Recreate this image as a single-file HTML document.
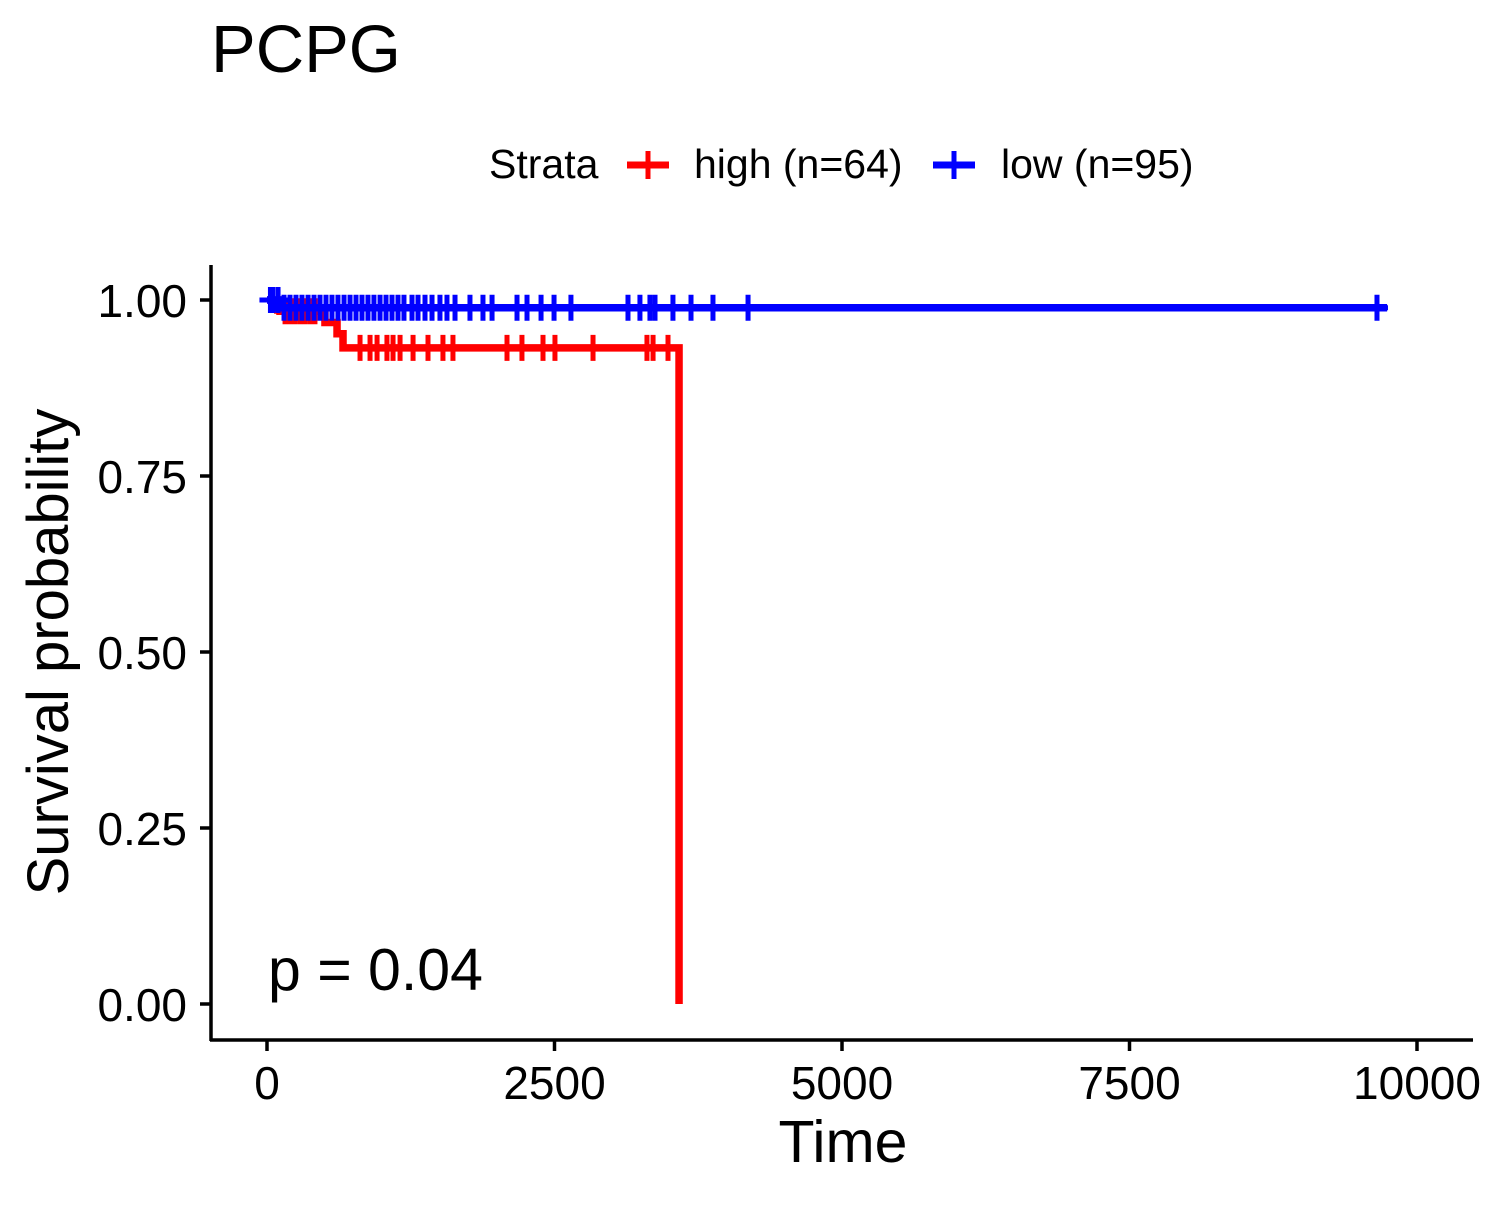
<!DOCTYPE html>
<html><head><meta charset="utf-8"><style>
body{margin:0;background:#fff}
svg text{font-family:"Liberation Sans",Arial,sans-serif}
</style></head><body>
<svg id="chart" width="1500" height="1200" viewBox="0 0 1500 1200" xmlns="http://www.w3.org/2000/svg">
<text x="211" y="72" font-size="67">PCPG</text>
<g>
<text x="489" y="178" font-size="41">Strata</text>
<g><line x1="627" y1="165" x2="669" y2="165" stroke="#f00" stroke-width="7"/><line x1="648" y1="151" x2="648" y2="179" stroke="#f00" stroke-width="5"/><text x="694" y="178" font-size="41">high (n=64)</text></g>
<g><line x1="933" y1="165" x2="975" y2="165" stroke="#00f" stroke-width="7"/><line x1="954" y1="151" x2="954" y2="179" stroke="#00f" stroke-width="5"/><text x="1001" y="178" font-size="41">low (n=95)</text></g>
</g>
<g id="axes"></g>
<g id="plot"></g>
<text x="268" y="990" font-size="59">p = 0.04</text>
<text x="843" y="1162" font-size="59" text-anchor="middle">Time</text>
<text transform="translate(68,652) rotate(-90)" font-size="58" text-anchor="middle">Survival probability</text>
</svg>
<script>
const xTicks=[0,2500,5000,7500,10000];
const yTicks=[0,0.25,0.5,0.75,1.0];
const yTickLabels=["0.00","0.25","0.50","0.75","1.00"];
const highTimes=[0,113,504,609,661,3583];
const highSurv=[1.0,0.984,0.968,0.952,0.932,0.0];
const highCensor=[157,200,243,287,330,374,417,809,896,957,1043,1096,1157,1270,1400,1530,1617,2087,2217,2400,2504,2835,3304,3357,3487];
const highEnd=3583;
const lowTimes=[0,100];
const lowSurv=[1.0,0.989];
const lowCensor=[30,50,96,148,200,252,304,357,409,461,513,565,617,670,722,774,826,878,930,983,1035,1087,1139,1191,1261,1313,1374,1435,1504,1565,1635,1765,1878,1957,2174,2261,2383,2496,2643,3139,3243,3330,3374,3530,3687,3878,4183,9652];
const lowEnd=9740;
const NS='http://www.w3.org/2000/svg';
const X=t=>267+t*0.115, Y=s=>1004-s*704;
const axes=document.getElementById('axes'), plot=document.getElementById('plot');
function mk(tag,attrs,parent){const e=document.createElementNS(NS,tag);for(const k in attrs)e.setAttribute(k,attrs[k]);parent.appendChild(e);return e;}
let l=mk('line',{x1:211,y1:265,x2:211,y2:1041,stroke:'#000','stroke-width':3.5},axes);


l=mk('line',{x1:210,y1:1040,x2:1473,y2:1040,stroke:'#000','stroke-width':3.5},axes);


xTicks.forEach(v=>{
 mk('line',{x1:X(v),y1:1040,x2:X(v),y2:1051,stroke:'#000','stroke-width':3.5},axes);
 const t=mk('text',{x:X(v),y:1099,'font-size':46,'text-anchor':'middle'},axes);t.textContent=v;
 
 
});
yTicks.forEach((v,i)=>{
 mk('line',{x1:200,y1:Y(v),x2:211,y2:Y(v),stroke:'#000','stroke-width':3.5},axes);
 const t=mk('text',{x:187,y:Y(v)+17,'font-size':46,'text-anchor':'end'},axes);t.textContent=yTickLabels[i];
 
 
});
function surv(times,sv,t){let s=sv[0];for(let i=0;i<times.length;i++)if(times[i]<=t)s=sv[i];return s;}
function draw(times,sv,end,cens,color,name){
 let d='M'+X(times[0])+','+Y(sv[0]);
 for(let i=1;i<times.length;i++){d+=' H'+X(times[i])+' V'+Y(sv[i]);}
 d+=' H'+X(end);
 const p=mk('path',{d:d,fill:'none',stroke:color,'stroke-width':7.5,'stroke-linejoin':'miter'},plot);
 
 
 cens.forEach(c=>{
  const s=surv(times,sv,c);
  const g=mk('path',{d:'M'+(X(c)-11)+','+Y(s)+' h22 M'+X(c)+','+(Y(s)-13)+' v26',stroke:color,'stroke-width':5},plot);
  
  
 });
}
draw(highTimes,highSurv,highEnd,highCensor,'#f00','high');
draw(lowTimes,lowSurv,lowEnd,lowCensor,'#00f','low');
</script>
</body></html>
